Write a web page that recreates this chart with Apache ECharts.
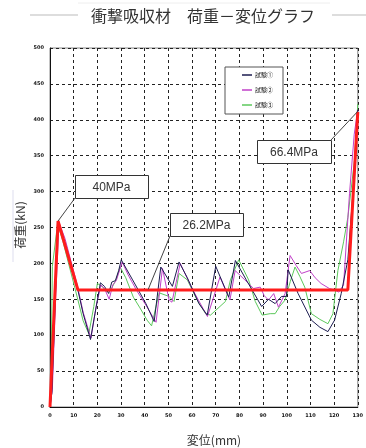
<!DOCTYPE html>
<html><head><meta charset="utf-8">
<script src="https://cdn.jsdelivr.net/npm/echarts@6/dist/echarts.min.js"></script>
<style>html,body{margin:0;padding:0;background:#fff}#c{width:366px;height:448px}</style>
</head><body><div id="c"></div>
<script>
const titleText = '衝撃吸収材　荷重－変位グラフ';
const xName = '変位(mm)';
const yName = '荷重(kN)';
const seriesNames = ['試験①', '試験②', '試験③'];
const xTicks = [0,10,20,30,40,50,60,70,80,90,100,110,120,130];
const yTicks = [0,50,100,150,200,250,300,350,400,450,500];

const test1 = [[0,0],[0.8,20],[2.0,130],[3.4,259],[6,232],[11.5,167],[14,130],[17.1,94],[19,130],[21.3,173],[23,168],[24.8,158],[26.1,174],[27.6,176],[29,190],[30.1,205],[34.9,177],[40.5,144],[44,119],[46.8,195],[51.7,168],[54.5,202],[58,180],[62.9,144],[66.4,128],[70,196],[75.5,153],[78.3,204],[82.9,177],[89.4,140],[92.3,150],[95.1,144],[97.8,154],[99.9,154],[100.6,191],[104.8,158],[110.4,121],[114,111],[117.4,105],[120.2,121],[123,158],[125.8,205],[128,300],[130,414]];
const test2 = [[0,0],[1,25],[2.3,145],[3.8,257],[6.3,235],[11.5,170],[14,132],[17.3,96],[19.5,140],[21.5,170],[23,165],[25,150],[26.5,170],[28,176],[30.5,202],[33,184],[37,160],[40.5,142],[44.8,118],[47.5,193],[50.3,149],[51.5,146],[55,200],[60,165],[66.5,126],[71.8,181],[76,149],[78.2,190],[82,178],[86,165],[88.8,167],[90.5,155],[92.3,149],[94.5,158],[96.5,139],[99.3,158],[101.4,211],[104,197],[106.2,186],[109.7,190],[112,180],[114.5,172],[118,165],[120.2,163],[122,160],[124,170],[126.5,297],[128.5,380],[130,414]];
const test3 = [[0,0],[0.5,60],[1.0,196],[3.2,255],[5.5,230],[11.5,153],[14,120],[16.4,102],[18.5,140],[20,172],[22,168],[24,160],[26,165],[28,178],[29.6,195],[32,180],[35.2,153],[38,138],[41,121],[42.9,113],[46.1,159],[50.3,154],[52.4,147],[54.5,186],[58,177],[62,150],[65.7,130],[67.8,128],[74.1,147],[76.2,177],[79.7,205],[83.9,177],[86.7,147],[89.6,128],[93,130],[95.1,130],[97,140],[99.3,149],[101.5,175],[103.5,195],[105.5,182],[107.6,167],[110.4,130],[114,122],[117.4,116],[119.5,130],[121.6,190],[124,230],[125.8,264],[128.6,343],[130,422]];
const modelLine = [[0,0],[3.4,259],[11.8,163],[125.8,163],[130,411]];
const annotations = [
  {text:'40MPa', target:[3.4,259]},
  {text:'26.2MPa', target:[41.5,164]},
  {text:'66.4MPa', target:[129.8,411]}
];

const chart = echarts.init(document.getElementById('c'));
const colors = ['#1c1c50', '#c040c8', '#5cc85c'];
const tickFont = {fontSize:5, fontWeight:'bold', color:'#111', fontFamily:'DejaVu Sans'};
const dashed = {show:true, lineStyle:{type:[3,3], color:'#222', width:1}};

chart.setOption({
  animation:false,
  backgroundColor:'#fff',
  grid:{left:50, top:48, right:6, bottom:41, show:true, borderColor:'#888', borderWidth:1},
  xAxis:{type:'value', min:0, max:130, interval:10,
    axisLine:{show:true, onZero:false, lineStyle:{color:'#111', width:1}},
    axisTick:{show:false},
    axisLabel:Object.assign({margin:6, formatter:v=>xTicks.includes(v)?String(v):''}, tickFont),
    splitLine:dashed},
  yAxis:{type:'value', min:0, max:500, interval:50,
    axisLine:{show:true, onZero:false, lineStyle:{color:'#111', width:1}},
    axisTick:{show:false},
    axisLabel:Object.assign({margin:6, formatter:v=>yTicks.includes(v)?String(v):''}, tickFont),
    splitLine:dashed},
  legend:{orient:'vertical', left:225, top:67, data:seriesNames,
    icon:'rect', itemWidth:10, itemHeight:1.5, itemGap:9,
    padding:[5,10,6,17], backgroundColor:'#fff', borderColor:'#555', borderWidth:1,
    textStyle:{fontSize:6, color:'#111', fontFamily:'Noto Sans CJK JP', padding:[0,0,0,-2]}},
  series:[
    {name:seriesNames[2], type:'line', data:test3, showSymbol:false, symbol:'none', lineStyle:{color:colors[2], width:1}, itemStyle:{color:colors[2]}, z:2},
    {name:seriesNames[1], type:'line', data:test2, showSymbol:false, symbol:'none', lineStyle:{color:colors[1], width:1}, itemStyle:{color:colors[1]}, z:3},
    {name:seriesNames[0], type:'line', data:test1, showSymbol:false, symbol:'none', lineStyle:{color:colors[0], width:1}, itemStyle:{color:colors[0]}, z:4},
    {name:'model', type:'line', data:modelLine, showSymbol:false, symbol:'none', lineStyle:{color:'#ff1c1c', width:3}, z:5}
  ]
});

// annotation boxes (layout) with leader lines to data targets
const boxes = [
  {x:75, y:175, w:73, h:23, anchor:[75,198]},
  {x:170, y:213, w:73, h:23, anchor:[170,236]},
  {x:257, y:140, w:74, h:23, anchor:[331,140]}
];
const g = [];
// title with side rules
g.push({type:'line', shape:{x1:30,y1:15,x2:78,y2:15}, style:{stroke:'#bbb', lineWidth:1}});
g.push({type:'line', shape:{x1:332,y1:15,x2:366,y2:15}, style:{stroke:'#bbb', lineWidth:1}});
g.push({type:'line', shape:{x1:78,y1:3,x2:330,y2:3}, style:{stroke:'#eee', lineWidth:1}});
g.push({type:'text', x:203, y:16, style:{text:titleText, fontSize:16, fill:'#333', fontFamily:'Noto Sans CJK JP', align:'center', verticalAlign:'middle'}});
g.push({type:'text', x:214, y:440, style:{text:xName, fontSize:12, fill:'#333', fontFamily:'Noto Sans CJK JP', align:'center', verticalAlign:'middle'}});
g.push({type:'text', x:20, y:225, rotation:Math.PI/2, style:{text:yName, fontSize:12, fill:'#333', fontFamily:'Noto Sans CJK JP', align:'center', verticalAlign:'middle'}});
g.push({type:'line', shape:{x1:13,y1:190,x2:13,y2:262}, style:{stroke:'#dde', lineWidth:1}});
annotations.forEach((a,i)=>{
  const b = boxes[i];
  const p = chart.convertToPixel({gridIndex:0}, a.target);
  g.push({type:'line', z:10, shape:{x1:b.anchor[0], y1:b.anchor[1], x2:p[0], y2:p[1]}, style:{stroke:'#444', lineWidth:1}});
  g.push({type:'rect', z:11, shape:{x:b.x+0.5, y:b.y+0.5, width:b.w, height:b.h}, style:{fill:'#fff', stroke:'#333', lineWidth:1}});
  g.push({type:'text', z:12, x:b.x+b.w/2, y:b.y+b.h/2+1, style:{text:a.text, fontSize:12, fill:'#333', fontFamily:'Liberation Sans', align:'center', verticalAlign:'middle'}});
});
chart.setOption({graphic:g});
</script></body></html>
